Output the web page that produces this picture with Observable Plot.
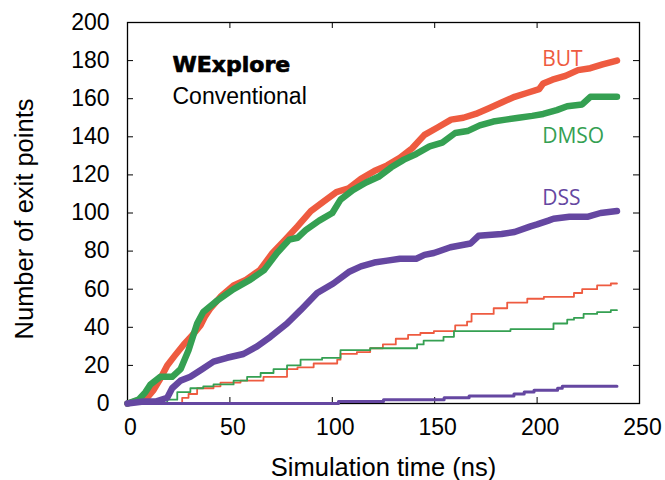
<!DOCTYPE html>
<html>
<head>
<meta charset="utf-8">
<script src="https://cdn.jsdelivr.net/npm/d3@7"></script>
<script src="https://cdn.jsdelivr.net/npm/@observablehq/plot@0.6"></script>
<style>
  body { margin: 0; background: #fff; }
</style>
</head>
<body>
<div id="chart"></div>
<script>
// Cumulative number of exit points against simulation time (ns).

// WExplore runs
const wexButTime  = [0, 9.6, 12.7, 16, 19.4, 23, 27.5, 31, 35.6, 38, 40.5, 45.4, 51.8, 58, 64.6, 70.8, 77, 83, 89.5, 95.7, 102, 108, 114, 120.5, 126.8, 133, 139, 145, 151.6, 158, 164, 170, 176.5, 182.7, 189, 195, 201, 203, 207.5, 213.8, 220, 226, 232, 239];
const wexButCount = [0, 3, 7, 13, 20, 25, 31, 35, 41, 46, 50, 56, 62, 65, 70, 79, 86, 93, 101, 106, 111, 113, 118, 122, 125, 129, 134, 141, 145, 149, 150, 152, 155, 158, 161, 163, 165, 168, 170, 172, 175, 176, 178, 180];

const wexDmsoTime  = [0, 5.4, 8.8, 11.2, 16, 21.8, 25.9, 29.8, 34, 37, 43.8, 51.8, 60, 66.7, 73, 79, 83, 87, 93.6, 100, 104, 110, 116.5, 122.6, 128.8, 135, 141, 147.5, 153.7, 160, 166, 172, 178.6, 184.7, 191, 197.6, 203, 209.6, 214.7, 222, 226, 239];
const wexDmsoCount = [0, 2, 6, 10, 14, 14, 18, 28, 42, 48, 54, 60, 65, 70, 79, 86, 87, 91, 96, 100, 107, 112, 116, 119, 124, 128, 131, 135, 137, 142, 143, 146, 148, 149, 150, 151, 152, 154, 156, 157, 161, 161];

const wexDssTime  = [0, 7.8, 13.7, 19.4, 21.8, 25.9, 30.7, 36.4, 42, 48.6, 56.6, 63.3, 69.8, 77.9, 84.5, 92.6, 100.5, 108, 114, 120.5, 126.8, 133, 141, 145, 149.6, 157.7, 167.5, 171.4, 182.7, 189, 196.8, 200, 205.5, 208, 215.8, 224.5, 231, 239];
const wexDssCount = [0, 1, 1, 3, 8, 12, 14, 18, 22, 24, 26, 30, 35, 42, 49, 58, 63, 69, 72, 74, 75, 76, 76, 78, 79, 82, 84, 88, 89, 90, 93, 94, 96, 97, 98, 98, 100, 101];

// Conventional runs
const convButTime  = [0, 26.7, 29.8, 34, 42, 45.4, 55.2, 66.4, 77.9, 83, 90.9, 102.4, 104, 112, 118.5, 124.7, 131, 137, 143, 149.6, 160, 165.8, 168, 178.8, 185.4, 195.2, 203.3, 218, 222, 229.3, 236, 239];
const convButCount = [0, 3, 5, 8, 9, 11, 12, 14, 18, 19, 21, 23, 26, 27, 29, 31, 34, 36, 37, 38, 41, 43, 47, 50, 53, 55, 56, 58, 60, 62, 63, 63];

const convDmsoTime  = [0, 19.4, 24.3, 30.7, 37, 42, 51.8, 58.4, 65, 71.3, 77.9, 84.5, 95, 104, 118.5, 136.6, 141.4, 144.6, 154.3, 159.4, 187, 208, 214.7, 218, 222.7, 229.3, 236, 239];
const convDmsoCount = [0, 2, 6, 8, 9, 10, 12, 14, 16, 18, 20, 23, 24, 28, 29, 29, 31, 33, 35, 38, 39, 42, 44, 45, 47, 48, 49, 49];

const convDssTime  = [0, 103, 125, 154.6, 166.8, 188.7, 193.7, 198.5, 210, 212.3, 239];
const convDssCount = [0, 1, 2, 3, 4, 5, 6, 7, 8, 9, 9];

const xTicks = [0, 50, 100, 150, 200, 250];
const yTicks = [0, 20, 40, 60, 80, 100, 120, 140, 160, 180, 200];
const solvents = ["BUT", "DMSO", "DSS"];

const rows = (time, count) => time.map((t, i) => ({t, n: count[i]}));

const wexplore = {
  BUT: rows(wexButTime, wexButCount),
  DMSO: rows(wexDmsoTime, wexDmsoCount),
  DSS: rows(wexDssTime, wexDssCount)
};
const conventional = {
  BUT: rows(convButTime, convButCount),
  DMSO: rows(convDmsoTime, convDmsoCount),
  DSS: rows(convDssTime, convDssCount)
};

const colors = {BUT: "#ee5b40", DMSO: "#35a052", DSS: "#6547a1"};

const W = 665, H = 480;
const M = {top: 22, right: 26, bottom: 77, left: 127};
const innerW = W - M.left - M.right;
const innerH = H - M.top - M.bottom;
const tickLen = 6;

// series name labels, placed just above the end of each WExplore curve
const nameLabels = [
  {name: "BUT", t: 202.5, n: 177},
  {name: "DMSO", t: 202.5, n: 137},
  {name: "DSS", t: 202.5, n: 104}
];

const chart = Plot.plot({
  width: W,
  height: H,
  marginTop: M.top,
  marginRight: M.right,
  marginBottom: M.bottom,
  marginLeft: M.left,
  x: {domain: [0, 250]},
  y: {domain: [0, 200]},
  style: {fontFamily: "'Liberation Sans', Arial, sans-serif", background: "#fff", color: "#000"},
  marks: [
    // inward ticks on all four sides
    Plot.tickX(xTicks, {x: d => d, insetTop: innerH - tickLen, stroke: "#000", strokeWidth: 1}),
    Plot.tickX(xTicks, {x: d => d, insetBottom: innerH - tickLen, stroke: "#000", strokeWidth: 1}),
    Plot.tickY(yTicks, {y: d => d, insetRight: innerW - tickLen, stroke: "#000", strokeWidth: 1}),
    Plot.tickY(yTicks, {y: d => d, insetLeft: innerW - tickLen, stroke: "#000", strokeWidth: 1}),
    Plot.axisX(xTicks, {tickSize: 0, tickPadding: 15, fontSize: 23, dx: 3, label: null}),
    Plot.axisY(yTicks, {tickSize: 0, tickPadding: 18, fontSize: 23, label: null}),
    Plot.frame({stroke: "#000", strokeWidth: 1.3}),

    // conventional MD: thin stepped curves
    ...solvents.map(s => Plot.line(conventional[s], {
      x: "t", y: "n", curve: "step-after",
      stroke: colors[s], strokeWidth: s === "DSS" ? 3 : 1.8
    })),
    // WExplore: thick curves
    ...solvents.map(s => Plot.line(wexplore[s], {
      x: "t", y: "n", curve: "linear",
      stroke: colors[s], strokeWidth: 6.5, strokeLinejoin: "round"
    })),

    Plot.text(nameLabels, {
      x: "t", y: "n", text: "name", fill: d => colors[d.name],
      textAnchor: "start", lineAnchor: "bottom",
      fontFamily: "'Open Sans', sans-serif", fontSize: 21
    }),

    Plot.text(["WExplore"], {
      text: d => d, frameAnchor: "top-left", dx: 45, dy: 49,
      textAnchor: "start", lineAnchor: "bottom",
      fontFamily: "'DejaVu Sans', sans-serif", fontWeight: "bold", fontSize: 22,
      fill: "#000", stroke: "#000", strokeWidth: 0.7
    }),
    Plot.text(["Conventional"], {
      text: d => d, frameAnchor: "top-left", dx: 45, dy: 81,
      textAnchor: "start", lineAnchor: "bottom", fontSize: 23
    }),

    // axis titles
    Plot.text(["Simulation time (ns)"], {
      text: d => d, frameAnchor: "bottom", dy: 72, lineAnchor: "bottom", fontSize: 25.5
    }),
    Plot.text(["Number of exit points"], {
      text: d => d, frameAnchor: "left", rotate: -90, dx: -95, dy: 6,
      textAnchor: "middle", lineAnchor: "bottom", fontSize: 25.5
    })
  ]
});

document.getElementById("chart").appendChild(chart);
</script>
</body>
</html>
